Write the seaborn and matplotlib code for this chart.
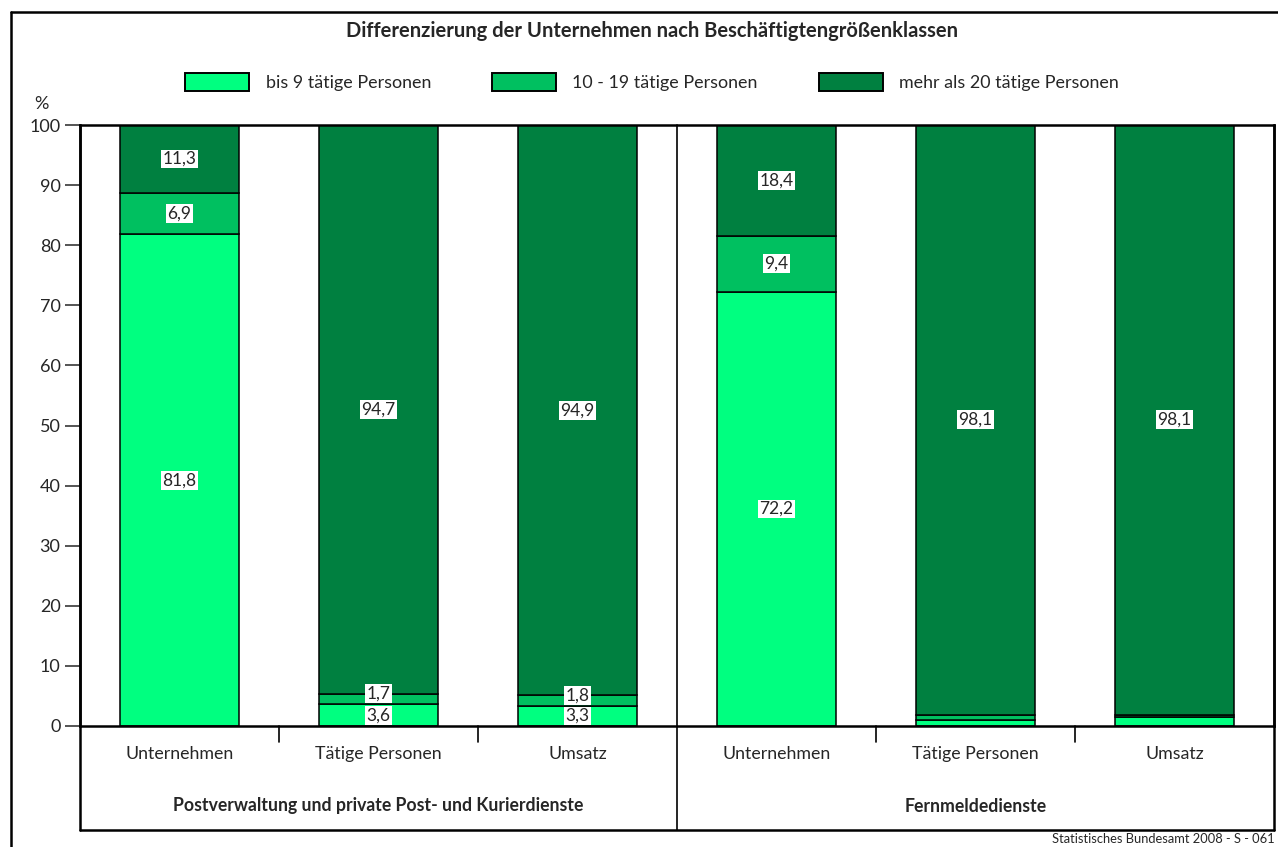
import numpy as np
import pandas as pd
import seaborn as sns
import matplotlib.pyplot as plt
from matplotlib.lines import Line2D
from matplotlib.patches import Patch

# data
categories = ["Unternehmen", "Tätige Personen", "Umsatz",
              "Unternehmen", "Tätige Personen", "Umsatz"]
groups = ["Postverwaltung und private Post- und Kurierdienste", "Fernmeldedienste"]
bis9 = [81.8, 3.6, 3.3, 72.2, 1.0, 1.5]
von10bis19 = [6.9, 1.7, 1.8, 9.4, 0.9, 0.4]
ab20 = [11.3, 94.7, 94.9, 18.4, 98.1, 98.1]
# which segments carry a value label
show_bis9 = [True, True, True, True, False, False]
show_mid = [True, True, True, True, False, False]
show_ab20 = [True, True, True, True, True, True]

series_names = ["bis 9 tätige Personen", "10 - 19 tätige Personen", "mehr als 20 tätige Personen"]
colors = ["#00FF80", "#00C060", "#008040"]

sns.set_style("white")
plt.rcParams['font.family'] = ['Lato', 'DejaVu Sans']

df = pd.DataFrame({"key": ["c%d" % i for i in range(6)],
                   "bis9": bis9, "mid": von10bis19, "ab20": ab20})
df["b2"] = df["bis9"] + df["mid"]

W, H = 1278, 847
fig = plt.figure(figsize=(W / 100, H / 100), dpi=100)
ax = fig.add_axes([80 / W, 1 - 726 / H, 1194 / W, 601 / H])

order = list(df["key"])
sns.barplot(data=df, x="key", y="bis9", order=order, color=colors[0], width=0.6,
            edgecolor="black", linewidth=1.1, ax=ax, saturation=1)
sns.barplot(data=df, x="key", y="mid", order=order, bottom=df["bis9"], color=colors[1],
            width=0.6, edgecolor="black", linewidth=1.1, ax=ax, saturation=1)
sns.barplot(data=df, x="key", y="ab20", order=order, bottom=df["b2"], color=colors[2],
            width=0.6, edgecolor="black", linewidth=1.1, ax=ax, saturation=1)

ax.set_xlim(-0.5, 5.5)
ax.set_ylim(0, 100)
ax.set_yticks(np.arange(0, 101, 10))
ax.set_xticks([])
ax.set_xlabel("")
ax.set_ylabel("")
ax.tick_params(axis="y", direction="out", length=11, width=1.1, labelsize=13, pad=3, left=True)
for s in ax.spines.values():
    s.set_linewidth(1.8)
    s.set_color("black")

def fmt(v):
    return ("%.1f" % v).replace(".", ",")

box = dict(facecolor="white", edgecolor="none", pad=1.0)
fs_val = 12.5
for i in range(6):
    if show_bis9[i]:
        ax.text(i, bis9[i] / 2, fmt(bis9[i]), ha="center", va="center", fontsize=fs_val, bbox=box)
    if show_mid[i]:
        ax.text(i, bis9[i] + von10bis19[i] / 2 + (0.9 if von10bis19[i] < 3 else 0),
                fmt(von10bis19[i]), ha="center", va="center", fontsize=fs_val, bbox=box)
    if show_ab20[i]:
        ax.text(i, bis9[i] + von10bis19[i] + ab20[i] / 2, fmt(ab20[i]),
                ha="center", va="center", fontsize=fs_val, bbox=box)

# category area below the axis
tr = ax.get_xaxis_transform()
y_bot = -104 / 601
ax.add_line(Line2D([-0.5, -0.5], [1, y_bot], transform=tr, color="black", lw=1.8, clip_on=False))
ax.add_line(Line2D([5.5, 5.5], [1, y_bot], transform=tr, color="black", lw=1.8, clip_on=False))
ax.add_line(Line2D([2.5, 2.5], [1, y_bot], transform=tr, color="black", lw=1.2, clip_on=False))
ax.add_line(Line2D([-0.5, 5.5], [y_bot, y_bot], transform=tr, color="black", lw=1.8, clip_on=False))
for xb in [0.5, 1.5, 3.5, 4.5]:
    ax.add_line(Line2D([xb, xb], [0, -16 / 601], transform=tr, color="black", lw=1.2, clip_on=False))
for i, c in enumerate(categories):
    ax.text(i, -28 / 601, c, transform=tr, ha="center", va="center", fontsize=12.8)
for g, xc in zip(groups, [1, 4]):
    ax.text(xc, -80 / 601, g, transform=tr, ha="center", va="center", fontsize=12.7,
            fontweight="bold")

fig.text(41 / W, 1 - 104 / H, "%", ha="center", va="center", fontsize=13)

# outer frame
fig.add_artist(Line2D([11 / W, 11 / W], [0, 1 - 12 / H], color="black", lw=1.8))
fig.add_artist(Line2D([11 / W, 1.01], [1 - 12 / H, 1 - 12 / H], color="black", lw=1.8))

fig.text(652 / W, 1 - 31 / H, "Differenzierung der Unternehmen nach Beschäftigtengrößenklassen",
         ha="center", va="center", fontsize=14.5, fontweight="bold")

handles = [Patch(facecolor=c, edgecolor="black", linewidth=1.4) for c in colors]
fig.legend(handles, series_names, ncol=3, loc="center", bbox_to_anchor=(652 / W, 1 - 82 / H),
           frameon=False, fontsize=12.9, handlelength=3.6, handleheight=1.2,
           handletextpad=0.9, columnspacing=3.4)

fig.text(1275 / W, 1 - 839 / H, "Statistisches Bundesamt 2008 - S - 061", ha="right",
         va="center", fontsize=9.3)

fig.savefig("out.png", dpi=100)
